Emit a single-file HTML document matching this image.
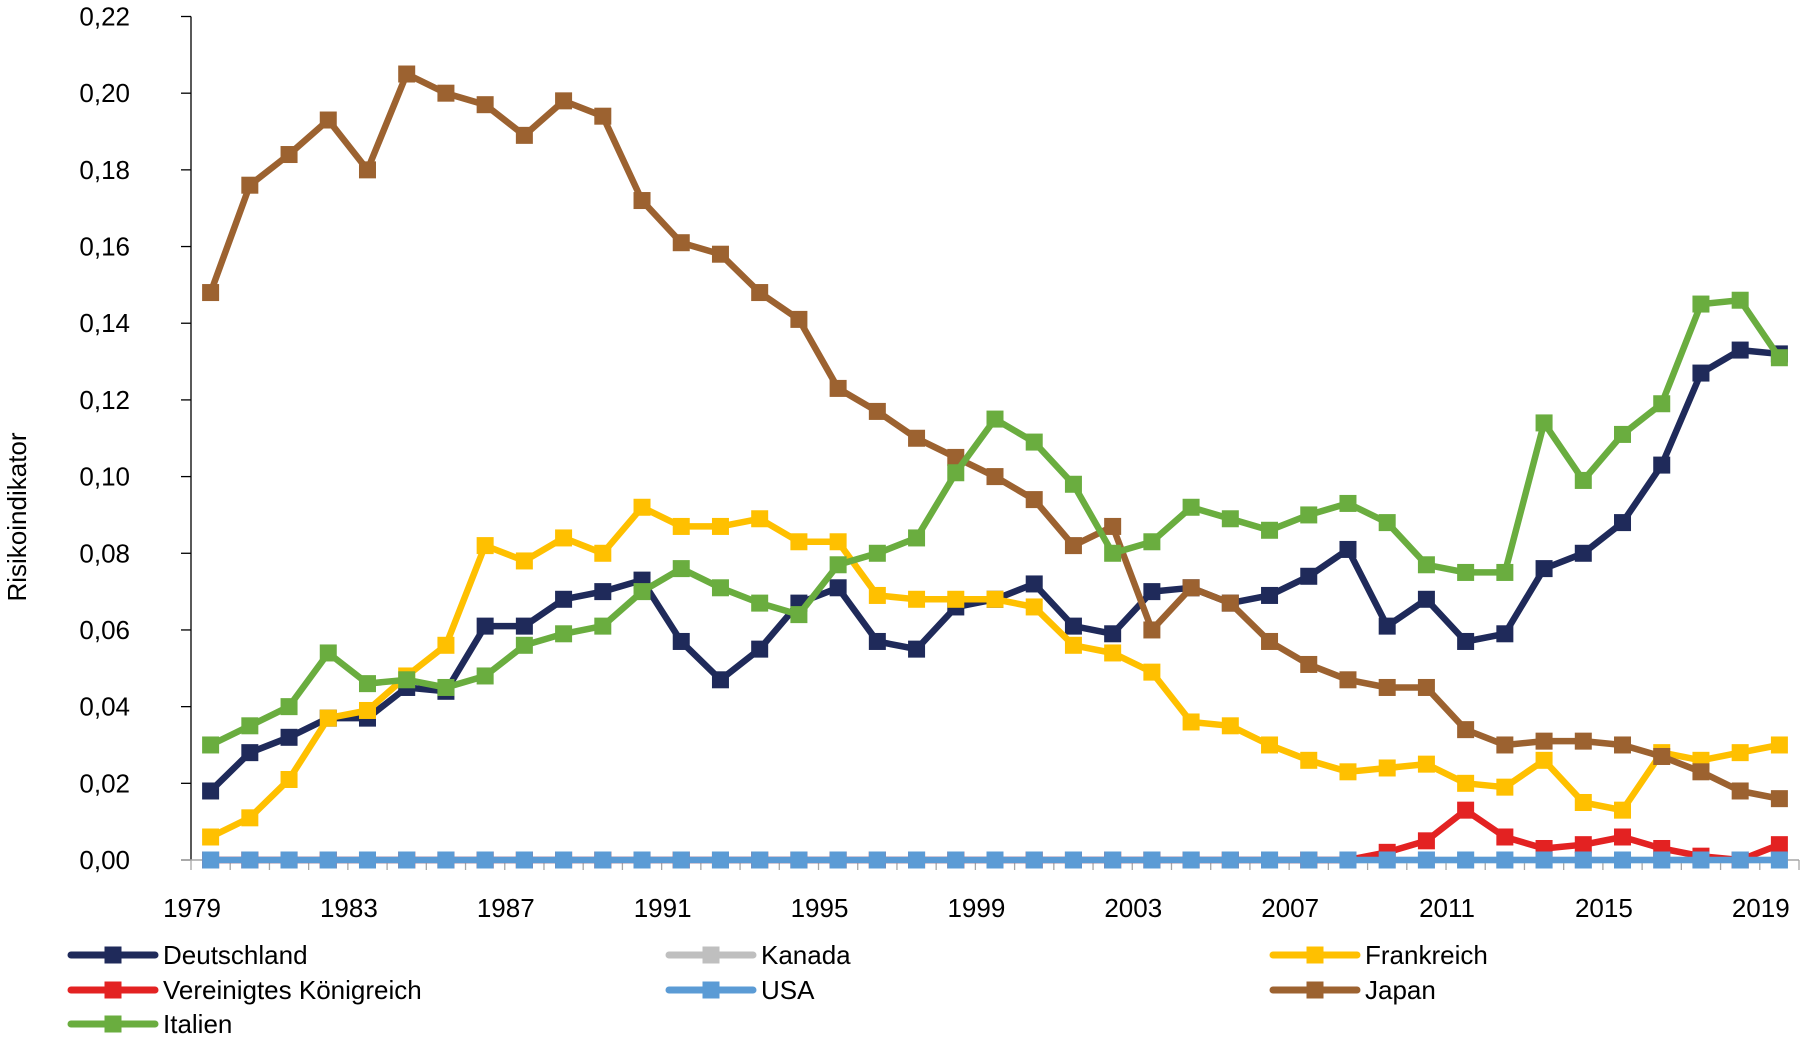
<!DOCTYPE html>
<html><head><meta charset="utf-8"><style>
html,body{margin:0;padding:0;background:#fff;}
svg{display:block;font-family:"Liberation Sans","DejaVu Sans",sans-serif;}
</style></head><body>
<svg id="chart" width="1803" height="1048" viewBox="0 0 1803 1048" xmlns="http://www.w3.org/2000/svg">
<g id="axes"></g><g id="series"></g><g id="legend"></g>
</svg>
<script>
const years = [];
for (let y = 1979; y <= 2019; y++) years.push(y);
const yTicks = [0,0.02,0.04,0.06,0.08,0.10,0.12,0.14,0.16,0.18,0.20,0.22];
const xLabels = [1979,1983,1987,1991,1995,1999,2003,2007,2011,2015,2019];
const deutschland = [.018,.028,.032,.037,.037,.045,.044,.061,.061,.068,.070,.073,.057,.047,.055,.067,.071,.057,.055,.066,.068,.072,.061,.059,.070,.071,.067,.069,.074,.081,.061,.068,.057,.059,.076,.080,.088,.103,.127,.133,.132];
const kanada = [0,0,0,0,0,0,0,0,0,0,0,0,0,0,0,0,0,0,0,0,0,0,0,0,0,0,0,0,0,0,0,0,0,0,0,0,0,0,0,0,0];
const frankreich = [.006,.011,.021,.037,.039,.048,.056,.082,.078,.084,.080,.092,.087,.087,.089,.083,.083,.069,.068,.068,.068,.066,.056,.054,.049,.036,.035,.030,.026,.023,.024,.025,.020,.019,.026,.015,.013,.028,.026,.028,.030];
const uk = [0,0,0,0,0,0,0,0,0,0,0,0,0,0,0,0,0,0,0,0,0,0,0,0,0,0,0,0,0,0,.002,.005,.013,.006,.003,.004,.006,.003,.001,.000,.004];
const usa = [0,0,0,0,0,0,0,0,0,0,0,0,0,0,0,0,0,0,0,0,0,0,0,0,0,0,0,0,0,0,0,0,0,0,0,0,0,0,0,0,0];
const japan = [.148,.176,.184,.193,.180,.205,.200,.197,.189,.198,.194,.172,.161,.158,.148,.141,.123,.117,.110,.105,.100,.094,.082,.087,.060,.071,.067,.057,.051,.047,.045,.045,.034,.030,.031,.031,.030,.027,.023,.018,.016];
const italien = [.030,.035,.040,.054,.046,.047,.045,.048,.056,.059,.061,.070,.076,.071,.067,.064,.077,.080,.084,.101,.115,.109,.098,.080,.083,.092,.089,.086,.090,.093,.088,.077,.075,.075,.114,.099,.111,.119,.145,.146,.131];

const NS = "http://www.w3.org/2000/svg";
const X0 = 191, X1 = 1799, Y0 = 860, Ytop = 16.5;
const step = (X1 - X0) / years.length;
const xPos = i => X0 + step * (i + 0.5);
const xTick = i => X0 + step * i;
const yPos = v => Y0 - (v / 0.22) * (Y0 - Ytop);
function mk(tag, attrs, parent){const e=document.createElementNS(NS,tag);for(const k in attrs)e.setAttribute(k,attrs[k]);parent.appendChild(e);return e;}

const axes = document.getElementById('axes');
// y axis
let yl = mk('line',{x1:X0,y1:Ytop,x2:X0,y2:Y0,stroke:'#000','stroke-width':1.3},axes);


yTicks.forEach(v=>{
  const t = mk('line',{x1:X0-10,y1:yPos(v),x2:X0,y2:yPos(v),stroke:'#000','stroke-width':1.3},axes);
  
  
  const lb = mk('text',{x:130,y:yPos(v)+9,'text-anchor':'end','font-size':26,fill:'#000'},axes);
  lb.textContent = v.toFixed(2).replace('.',',');
  
  
});
// x axis
let xl = mk('line',{x1:X0-10,y1:Y0,x2:X1,y2:Y0,stroke:'#a6a6a6','stroke-width':1.5},axes);


for(let i=0;i<=years.length;i++){
  const t = mk('line',{x1:xTick(i),y1:Y0,x2:xTick(i),y2:Y0+10,stroke:'#a6a6a6','stroke-width':1.3},axes);
  
  
}
xLabels.forEach(yr=>{
  const i = years.indexOf(yr);
  const lb = mk('text',{x:xTick(i)+1,y:917,'text-anchor':'middle','font-size':26,fill:'#000'},axes);
  lb.textContent = yr;
  
  
});
const yt = mk('text',{x:0,y:0,'text-anchor':'middle','font-size':26,fill:'#000',transform:'translate(26,517) rotate(-90)'},axes);
yt.textContent = 'Risikoindikator';



const seriesList = [
  {name:'Deutschland',data:deutschland,color:'#1f2a5a',leg:[0,0]},
  {name:'Kanada',data:kanada,color:'#bfbfbf',leg:[1,0]},
  {name:'Frankreich',data:frankreich,color:'#ffc000',leg:[2,0]},
  {name:'Vereinigtes Königreich',data:uk,color:'#e32222',leg:[0,1]},
  {name:'USA',data:usa,color:'#5b9bd5',leg:[1,1]},
  {name:'Japan',data:japan,color:'#9c6230',leg:[2,1]},
  {name:'Italien',data:italien,color:'#6aad3f',leg:[0,2]}
];
const sg = document.getElementById('series');
const lg = document.getElementById('legend');
const colX = [71,669,1273], rowY = [955,990,1024];
const M = 17;
seriesList.forEach(s=>{
  const g = mk('g',{},sg);
  
  
  const pts = s.data.map((v,i)=>xPos(i).toFixed(1)+','+yPos(v).toFixed(1)).join(' ');
  const pl = mk('polyline',{points:pts,fill:'none',stroke:s.color,'stroke-width':6.5,'stroke-linejoin':'round','stroke-linecap':'round'},g);
  
  
  s.data.forEach((v,i)=>{
    const r = mk('rect',{x:xPos(i)-M/2,y:yPos(v)-M/2,width:M,height:M,fill:s.color},g);
    
    
  });
  // legend
  const lx = colX[s.leg[0]], ly = rowY[s.leg[1]];
  const le = mk('g',{},lg);
  
  
  mk('line',{x1:lx,y1:ly,x2:lx+84,y2:ly,stroke:s.color,'stroke-width':7,'stroke-linecap':'round'},le);
  mk('rect',{x:lx+42-M/2,y:ly-M/2,width:M,height:M,fill:s.color},le);
  const tx = mk('text',{x:lx+92,y:ly+9,'font-size':26,fill:'#000'},le);
  tx.textContent = s.name;
});
</script>
</body></html>
